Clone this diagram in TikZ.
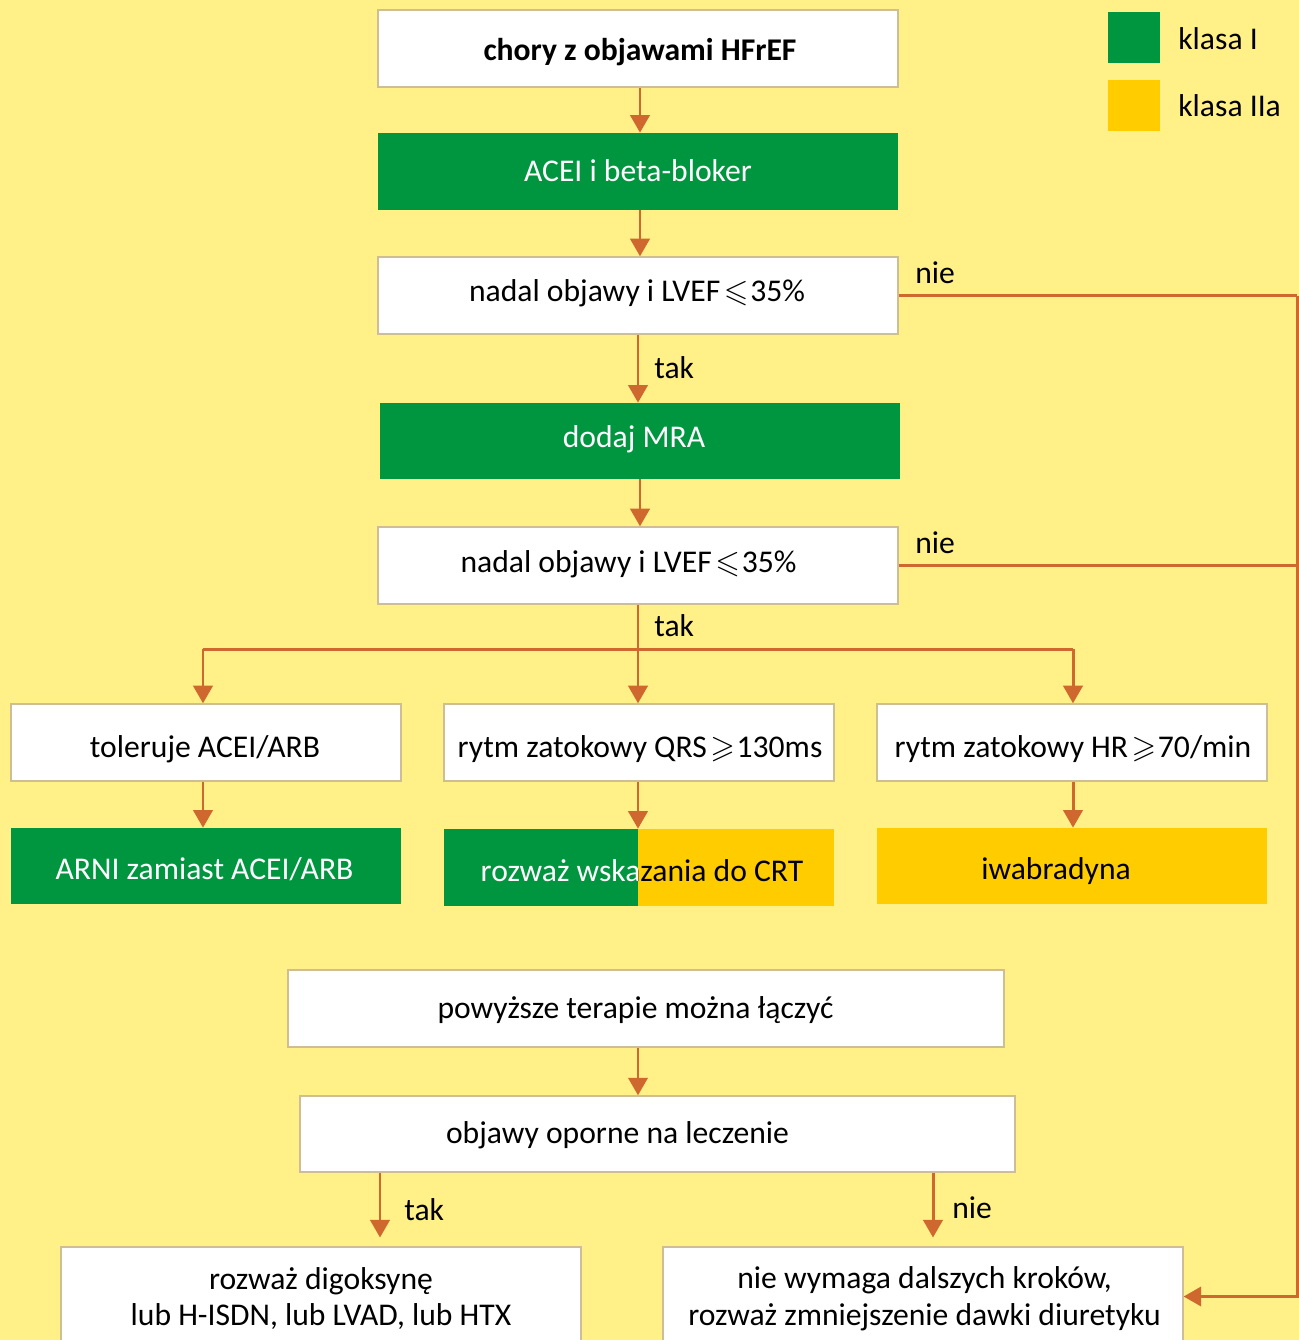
\documentclass[tikz,border=0pt]{standalone}
\usepackage{amssymb}
\usepackage{fontspec}
\setmainfont{Carlito}
\usetikzlibrary{arrows.meta}
\definecolor{bg}{RGB}{255,240,135}
\definecolor{grn}{RGB}{0,150,64}
\definecolor{ylw}{RGB}{255,204,0}
\definecolor{arr}{RGB}{206,104,46}
\definecolor{bord}{RGB}{205,190,150}
\newcommand\fs{\fontsize{18}{21}\selectfont}
\newcommand\myle{\kern2pt$\leqslant$\kern1pt}
\newcommand\myge{\kern2pt$\geqslant$\kern1pt}
\begin{document}
\begin{tikzpicture}[x=0.02cm,y=-0.02cm,
  box/.style={rectangle, inner sep=0pt},
  whitebox/.style={box, fill=white, draw=bord, line width=0.8pt},
  greenbox/.style={box, fill=grn},
  yellowbox/.style={box, fill=ylw},
  wide/.style={minimum width=10.4cm},
  mid/.style={minimum width=7.8cm},
  tall/.style={minimum height=1.54cm},
  conn/.style={draw=arr, line width=1.7pt, -{Triangle[length=10pt,width=11pt]}},
  line/.style={draw=arr, line width=1.7pt},
  lbl/.style={font=\fs, text=black, inner sep=0pt},
  txt/.style={font=\fs, inner sep=0pt, align=center},
  wtxt/.style={txt, text=white}]
\path[use as bounding box] (0,0) rectangle (1299,1340);
\clip (0,0) rectangle (1299,1340);
\fill[bg] (0,0) rectangle (1299,1340);

% legend
\node[fill=grn, minimum width=1.04cm, minimum height=1.02cm, inner sep=0pt] (lg1) at (1134,37.5) {};
\node[fill=ylw, minimum width=1.04cm, minimum height=1.02cm, inner sep=0pt] (lg2) at (1134,105.5) {};
\node[lbl, anchor=west] (lt1) at (1178,39) {klasa I};
\node[lbl, anchor=west] (lt2) at (1178,106) {klasa IIa};

% main column
\node[whitebox, wide, tall] (b1) at (638,48.5) {};
\node[txt] (t1) at (640,52.5) {\bfseries chory z objawami HFrEF};
\node[greenbox, wide, tall] (b2) at (638,171.5) {};
\node[wtxt] (t2) at (638,170.5) {ACEI i beta-bloker};
\node[whitebox, wide, tall] (b3) at (638,295.5) {};
\node[txt] (t3) at (637,293.5) {nadal objawy i LVEF\myle35\%};
\node[greenbox, wide, minimum height=1.52cm] (b4) at (640,441) {};
\node[wtxt] (t4) at (634,439) {dodaj MRA};
\node[whitebox, wide, tall] (b5) at (638,565.5) {};
\node[txt] (t5) at (628.5,564.5) {nadal objawy i LVEF\myle35\%};

% three branches
\node[whitebox, mid, tall] (b6) at (206,742.5) {};
\node[txt] (t6) at (205,749.5) {toleruje ACEI/ARB};
\node[whitebox, mid, tall] (b7) at (639,742.5) {};
\node[txt] (t7) at (640,749.5) {rytm zatokowy QRS\myge130ms};
\node[whitebox, mid, tall] (b8) at (1072,742.5) {};
\node[txt] (t8) at (1073,749.5) {rytm zatokowy HR\myge70/min};

\node[greenbox, mid, minimum height=1.52cm] (b9) at (206,866) {};
\node[wtxt] (t9) at (204.5,869) {ARNI zamiast ACEI/ARB};
\node[box, mid, tall] (b10) at (639,867.5) {};
\fill[grn] (444,829) rectangle (638,906);
\fill[ylw] (638,829) rectangle (834,906);
\begin{scope}
  \clip (444,829) rectangle (638,906);
  \node[wtxt] (t10a) at (642,871) {rozważ wskazania do CRT};
\end{scope}
\begin{scope}
  \clip (638,829) rectangle (834,906);
  \node[txt] (t10b) at (642,871) {rozważ wskazania do CRT};
\end{scope}
\node[yellowbox, mid, minimum height=1.52cm] (b11) at (1072,866) {};
\node[txt] (t11) at (1056,871) {iwabradyna};

% lower part
\node[whitebox, minimum width=14.32cm, tall] (b12) at (646,1008.5) {};
\node[txt] (t12) at (635.5,1010.5) {powyższe terapie można łączyć};
\node[whitebox, minimum width=14.3cm, minimum height=1.52cm] (b13) at (657.5,1134) {};
\node[txt] (t13) at (617.5,1135) {objawy oporne na leczenie};
\node[whitebox, wide, minimum height=1.98cm] (b14) at (321,1296.5) {};
\node[txt] (t14) at (321,1298.5) {rozważ digoksynę\\lub H-ISDN, lub LVAD, lub HTX};
\node[whitebox, wide, minimum height=1.98cm] (b15) at (923,1296.5) {};
\node[txt] (t15) at (924.5,1298.5) {nie wymaga dalszych kroków,\\rozważ zmniejszenie dawki diuretyku};

% connectors
\draw[conn] (b1.south -| 640,0) -- (b2.north -| 640,0);
\draw[conn] (b2.south -| 640,0) -- (b3.north -| 640,0);
\draw[conn] (b3.south) -- (b3.south |- b4.north);
\node[lbl, anchor=west] (tak1) at (654,368) {tak};
\draw[conn] (b4.south) -- (b4.south |- b5.north);

\coordinate (sL) at (203,649);
\coordinate (sM) at (638,649);
\coordinate (sR) at (1073,649);
\draw[line] (b5.south) -- (sM);
\draw[line] (sL) -- (sR);
\node[lbl, anchor=west] (tak2) at (654,626) {tak};
\draw[conn] (sL) -- (sL |- b6.north);
\draw[conn] (sM) -- (sM |- b7.north);
\draw[conn] (sR) -- (sR |- b8.north);

\draw[conn] (b6.south -| sL) -- (b9.north -| sL);
\draw[conn] (b7.south -| sM) -- (b10.north -| sM);
\draw[conn] (b8.south -| sR) -- (b11.north -| sR);

\draw[conn] (b12.south -| sM) -- (b13.north -| sM);

\coordinate (dL) at (380,0);
\coordinate (dR) at (933,0);
\draw[conn, shorten >=5pt] (b13.south -| dL) -- (b14.north -| dL);
\node[lbl, anchor=west] (tak3) at (404,1210) {tak};
\draw[conn, shorten >=5pt] (b13.south -| dR) -- (b15.north -| dR);
\node[lbl, anchor=west] (nie3) at (952,1208) {nie};

% right loop
\coordinate (r1) at (1297,295.5);
\coordinate (r2) at (1297,565.5);
\draw[line] (b3.east) -- (r1);
\draw[line] (b5.east) -- (r2);
\node[lbl, anchor=west] (nie1) at (915,273) {nie};
\node[lbl, anchor=west] (nie2) at (915,543) {nie};
\draw[conn] (r1) -- (r1 |- b15.east) -- (b15.east);
\end{tikzpicture}
\end{document}
